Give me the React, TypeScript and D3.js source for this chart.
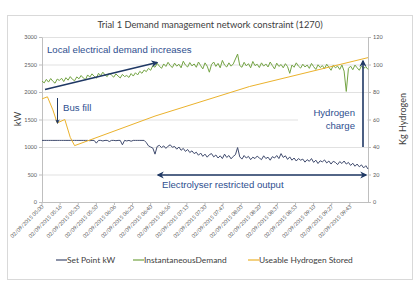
import { useEffect, useRef } from "react"
import * as d3 from "d3"

// minutes after 05:00, sampled every 2 minutes
const demandKw = [
  2200, 2165, 2230, 2180, 2245, 2195, 2160, 2235, 2210, 2250,
  2190, 2260, 2215, 2280, 2230, 2205, 2275, 2240, 2300, 2255,
  2225, 2310, 2270, 2330, 2285, 2250, 2340, 2300, 2360, 2310,
  2280, 2345, 2305, 2270, 2330, 2290, 2255, 2320, 2280, 2300,
  2265, 2335, 2290, 2350, 2310, 2375, 2340, 2400, 2370, 2430,
  2395, 2480, 2450, 2520, 2470, 2430, 2510, 2465, 2540, 2480,
  2445, 2525, 2470, 2505, 2440, 2560, 2490, 2455, 2535, 2475,
  2510, 2450, 2545, 2480, 2420, 2530, 2470, 2360, 2500, 2545,
  2465, 2520, 2440, 2575, 2490, 2455, 2530, 2470, 2510, 2600,
  2690, 2480, 2450, 2540, 2475, 2515, 2440, 2555, 2480, 2505,
  2445, 2530, 2470, 2510, 2455, 2545, 2480, 2420, 2525, 2465,
  2500, 2440, 2515, 2460, 2340, 2490, 2450, 2530, 2470, 2435,
  2505, 2455, 2490, 2430, 2520, 2460, 2410, 2495, 2445, 2480,
  2425, 2505, 2450, 2395, 2485, 2440, 2470, 2410, 2490, 2380,
  2010, 2430, 2470, 2405, 2490, 2440, 2395, 2475, 2430, 2460, 2410,
]

const setPointKw = [
  1120, 1120, 1120, 1120, 1120, 1120, 1120, 1120, 1120, 1120,
  1120, 1120, 1120, 1120, 1120, 1120, 1120, 1120, 1120, 1120,
  1120, 1120, 1115, 1120, 1120, 1070, 1120, 1120, 1110, 1120,
  1120, 1100, 1120, 1120, 1115, 1120, 1120, 1040, 1120, 1110,
  1120, 1105, 1120, 1120, 1120, 1120, 1120, 1120, 1080, 1020,
  1000, 980, 870, 1010, 1030, 990, 1020, 975, 1015, 1040,
  995, 1010, 960, 1000, 940, 975, 920, 955, 900, 930,
  880, 905, 850, 890, 830, 870, 815, 860, 880, 820,
  855, 800, 840, 790, 870, 810, 845, 785, 830, 860,
  990, 820, 780, 845, 800, 830, 770, 815, 790, 835,
  800, 770, 840, 790, 815, 760, 825, 800, 845, 790,
  880, 810, 840, 775, 820, 760, 800, 745, 790, 760,
  780, 725, 770, 740, 790, 720, 760, 700, 750, 730,
  765, 710, 745, 690, 740, 720, 680, 735, 700, 745,
  690, 720, 665, 705, 650, 690, 640, 675, 620, 660, 600,
]

const hydrogenMinutes = [0, 5, 10, 14, 21, 26, 30, 104, 191, 300]
const hydrogenKg = [75, 76.5, 67, 57.5, 60, 47, 41, 62.5, 84, 105]

const timeLabels = [
  "02/09/2015 05:00", "02/09/2015 05:16", "02/09/2015 05:33", "02/09/2015 05:50",
  "02/09/2015 06:06", "02/09/2015 06:23", "02/09/2015 06:40", "02/09/2015 06:56",
  "02/09/2015 07:13", "02/09/2015 07:30", "02/09/2015 07:47", "02/09/2015 08:03",
  "02/09/2015 08:20", "02/09/2015 08:37", "02/09/2015 08:53", "02/09/2015 09:10",
  "02/09/2015 09:27", "02/09/2015 09:43",
]
const kwTicks = [0, 500, 1000, 1500, 2000, 2500, 3000]
const kgTicks = [0, 20, 40, 60, 80, 100, 120]

const seriesNames = ["Set Point kW", "InstantaneousDemand", "Useable Hydrogen Stored"]

export default function App() {
  const svgRef = useRef<SVGSVGElement>(null)

  useEffect(() => {
    if (!svgRef.current) return
    const svg = d3.select(svgRef.current)
    svg.selectAll("*").remove()

    const green = "#74a444"
    const navy = "#404b6e"
    const gold = "#ebb22c"
    const note = "#2f4f8f"
    const arrowCol = "#1f3864"
    const grey = "#404040"

    const left = 42, right = 368, top = 37, bottom = 202

    const x = d3.scaleLinear().domain([0, 300]).range([left, right])
    const yL = d3.scaleLinear().domain([0, 3000]).range([bottom, top])
    const yR = d3.scaleLinear().domain([0, 120]).range([bottom, top])

    // chart frame
    svg.append("rect")
      .attr("x", 7.5).attr("y", 15.5).attr("width", 405).attr("height", 264)
      .attr("fill", "#fff").attr("stroke", "#d9d9d9")

    svg.append("text")
      .attr("x", 210).attr("y", 28)
      .attr("text-anchor", "middle")
      .attr("font-family", "Lato, sans-serif").attr("font-size", 9.3)
      .attr("fill", grey)
      .text("Trial 1 Demand management network constraint (1270)")

    // gridlines
    svg.append("g").selectAll("line").data(kwTicks).enter().append("line")
      .attr("x1", left).attr("x2", right)
      .attr("y1", (d) => yL(d) + 0.5).attr("y2", (d) => yL(d) + 0.5)
      .attr("stroke", "#d9d9d9").attr("stroke-width", 0.8)

    // axes
    const axL = svg.append("g").attr("transform", `translate(${left},0)`)
      .call(d3.axisLeft(yL).tickValues(kwTicks).tickFormat(d3.format("d")).tickSize(3).tickSizeOuter(0).tickPadding(2))
    const axR = svg.append("g").attr("transform", `translate(${right},0)`)
      .call(d3.axisRight(yR).tickValues(kgTicks).tickFormat(d3.format("d")).tickSize(3).tickSizeOuter(0).tickPadding(2))
    ;[axL, axR].forEach((g) => {
      g.selectAll("path,line").attr("stroke", "#bfbfbf")
      g.selectAll("text").attr("font-size", 5.5).attr("fill", "#595959")
        .attr("font-family", "Lato, sans-serif")
    })

    const bx = svg.append("g")
    bx.append("line").attr("x1", left).attr("x2", right)
      .attr("y1", bottom + 0.5).attr("y2", bottom + 0.5).attr("stroke", "#bfbfbf")
    timeLabels.forEach((lab, i) => {
      const px = x((i * 1000) / 60)
      bx.append("line").attr("x1", px).attr("x2", px)
        .attr("y1", bottom).attr("y2", bottom + 3).attr("stroke", "#bfbfbf")
      bx.append("text")
        .attr("transform", `translate(${px + 1},${bottom + 4}) rotate(-45)`)
        .attr("text-anchor", "end").attr("dominant-baseline", "middle")
        .attr("font-size", 5.3).attr("fill", "#595959")
        .attr("font-family", "Lato, sans-serif")
        .text(lab)
    })

    svg.append("text")
      .attr("transform", `translate(21,119) rotate(-90)`)
      .attr("text-anchor", "middle")
      .attr("font-family", "Lato, sans-serif").attr("font-size", 9.5).attr("fill", grey)
      .text("kW")
    svg.append("text")
      .attr("transform", `translate(406,119) rotate(-90)`)
      .attr("text-anchor", "middle")
      .attr("font-family", "Lato, sans-serif").attr("font-size", 9).attr("fill", grey)
      .text("Kg Hydrogen")

    // white text box behind "Hydrogen charge"
    svg.append("rect").attr("x", 298).attr("y", 102).attr("width", 69).attr("height", 36)
      .attr("fill", "#fff")

    // series
    const lineKw = d3.line<number>().x((_, i) => x(i * 2)).y((d) => yL(d))
    svg.append("path").datum(demandKw).attr("d", lineKw)
      .attr("fill", "none").attr("stroke", green).attr("stroke-width", 1)
    svg.append("path").datum(setPointKw).attr("d", lineKw)
      .attr("fill", "none").attr("stroke", navy).attr("stroke-width", 1)
    const lineKg = d3.line<number>().x((_, i) => x(hydrogenMinutes[i])).y((d) => yR(d))
    svg.append("path").datum(hydrogenKg).attr("d", lineKg)
      .attr("fill", "none").attr("stroke", gold).attr("stroke-width", 1)

    // arrowheads
    const defs = svg.append("defs")
    defs.append("marker").attr("id", "ah").attr("viewBox", "0 0 10 10")
      .attr("refX", 8).attr("refY", 5).attr("markerWidth", 4.5).attr("markerHeight", 4.5)
      .attr("orient", "auto-start-reverse")
      .append("path").attr("d", "M0,0 L10,5 L0,10 L3,5 Z").attr("fill", arrowCol)

    const arrow = (x1: number, y1: number, x2: number, y2: number, w: number, both = false) => {
      const l = svg.append("line").attr("x1", x1).attr("y1", y1).attr("x2", x2).attr("y2", y2)
        .attr("stroke", arrowCol).attr("stroke-width", w).attr("marker-end", "url(#ah)")
      if (both) l.attr("marker-start", "url(#ah)")
    }
    arrow(45, 89.5, 157, 62.5, 1.6)
    arrow(57.5, 98, 57.5, 123, 1)
    arrow(363, 147, 363, 61, 1.6)
    arrow(158, 175, 366, 175, 1.6, true)

    const notes: [string, number, number, string][] = [
      ["Local electrical demand increases", 47, 53, "start"],
      ["Bus fill", 63, 111, "start"],
      ["Hydrogen", 355, 116, "end"],
      ["charge", 355, 129, "end"],
      ["Electrolyser restricted output", 162, 188, "start"],
    ]
    notes.forEach(([t, nx, ny, anchor]) => {
      svg.append("text").attr("x", nx).attr("y", ny).attr("text-anchor", anchor)
        .attr("font-family", "'Liberation Sans', Arial, sans-serif").attr("font-size", 9.6)
        .attr("fill", note).text(t)
    })

    // legend
    const legCols = [navy, green, gold]
    const legX = [56, 133, 248]
    seriesNames.forEach((name, i) => {
      svg.append("line").attr("x1", legX[i]).attr("x2", legX[i] + 11)
        .attr("y1", 260).attr("y2", 260).attr("stroke", legCols[i]).attr("stroke-width", 1.2)
      svg.append("text").attr("x", legX[i] + 11).attr("y", 263)
        .attr("font-family", "Lato, sans-serif").attr("font-size", 8.4).attr("fill", grey)
        .text(name)
    })
  }, [])

  return (
    <div style={{ position: "absolute", left: 0, top: 0 }}>
      <svg ref={svgRef} width={418} height={282} />
    </div>
  )
}
